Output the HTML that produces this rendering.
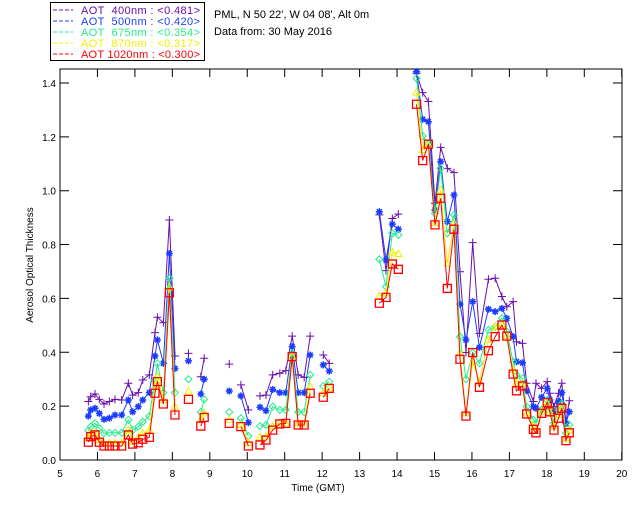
<!DOCTYPE html>
<html><head><meta charset="utf-8"><style>
body{margin:0;background:#fff;}
svg{display:block;font-family:"Liberation Sans",sans-serif;}
text{white-space:pre;}
</style></head><body>
<svg id="c" width="640" height="512">
<rect x="0" y="0" width="640" height="512" fill="#fff"/>
<g>
<rect x="50.5" y="2.5" width="154" height="58" fill="#fff" stroke="#000"/>
</g>
<text x="214" y="18" font-size="11">PML, N 50 22', W 04 08', Alt 0m</text>
<text x="214" y="35" font-size="11">Data from: 30 May 2016</text>
<g id="axes"></g>
<g id="series"></g>
<text x="318" y="491" font-size="10" text-anchor="middle">Time (GMT)</text>
<text transform="translate(33,265) rotate(-90)" font-size="10" text-anchor="middle">Aerosol Optical Thickness</text>
</svg>
<script>
const times=[5.757,5.82,5.935,6.05,6.175,6.317,6.469,6.647,6.825,6.94,7.09,7.21,7.385,7.537,7.6,7.76,7.92,8.07,8.43,8.76,8.85,9.52,9.83,10.03,10.34,10.5,10.68,10.87,11.03,11.2,11.36,11.52,11.68,12.03,12.19,
13.527,13.705,13.874,14.034,14.52,14.684,14.836,15.013,15.165,15.343,15.52,15.68,15.84,16.02,16.2,16.44,16.62,16.8,16.93,17.1,17.19,17.35,17.46,17.64,17.71,17.86,18.01,18.08,18.19,18.31,18.4,18.51,18.6];
const aot400=[.217,.235,.245,.225,.208,.217,.225,.223,.285,.241,.25,.297,.316,.473,.53,.51,.891,.386,.396,.309,.378,.356,.279,.186,.238,.241,.316,.322,.332,.46,.316,.307,.46,.39,.359,
.91,.703,.897,.913,1.436,1.364,1.331,.953,1.161,1.083,1.067,.699,.399,.807,.47,.671,.675,.607,.569,.588,.439,.433,.285,.217,.285,.266,.291,.248,.198,.248,.285,.142,.22];
const aot500=[.163,.186,.192,.173,.151,.155,.167,.167,.223,.179,.198,.223,.25,.386,.446,.359,.767,.34,.368,.245,.30,.256,.238,.139,.196,.183,.262,.25,.25,.421,.25,.25,.39,.353,.33,
.922,.743,.876,.857,1.442,1.265,1.256,.928,1.108,.885,.984,.579,.446,.588,.418,.56,.551,.563,.526,.458,.365,.361,.257,.198,.192,.233,.266,.223,.179,.217,.25,.136,.179];
const aot675=[.109,.124,.136,.118,.099,.101,.101,.101,.149,.111,.124,.142,.163,.297,.359,.25,.675,.25,.30,.178,.225,.178,.155,.089,.126,.13,.198,.186,.186,.396,.178,.178,.316,.275,.291,
.745,.644,.842,.836,1.417,1.203,1.176,.916,1.083,.842,.91,.458,.30,.399,.359,.483,.495,.526,.477,.365,.316,.303,.198,.149,.136,.186,.223,.192,.136,.186,.21,.099,.13];
const aot870=[.08,.099,.099,.074,.062,.062,.062,.062,.111,.068,.084,.099,.111,.272,.309,.223,.641,.198,.254,.149,.173,.149,.13,.062,.084,.087,.124,.136,.136,.384,.136,.134,.272,.248,.266,
.609,.619,.77,.765,1.364,1.151,1.17,.879,1.003,.73,.879,.396,.173,.365,.291,.446,.495,.501,.46,.334,.285,.285,.173,.124,.109,.179,.21,.179,.124,.167,.198,.08,.111];
const aot1020=[.066,.087,.093,.066,.052,.052,.052,.052,.093,.059,.064,.077,.084,.248,.291,.208,.621,.167,.225,.126,.158,.136,.124,.052,.056,.074,.111,.134,.136,.384,.13,.13,.248,.233,.266,
.582,.604,.728,.708,1.321,1.112,1.173,.873,.972,.637,.857,.374,.163,.399,.27,.406,.458,.501,.46,.319,.257,.275,.171,.114,.101,.173,.213,.179,.111,.155,.192,.072,.101];
const xTicks=[5,6,7,8,9,10,11,12,13,14,15,16,17,18,19,20];
const yTicks=[0,0.2,0.4,0.6,0.8,1.0,1.2,1.4];
const legendLabels=["AOT  400nm : <0.481>","AOT  500nm : <0.420>","AOT  675nm : <0.354>","AOT  870nm : <0.317>","AOT 1020nm : <0.300>"];

const L=60,R=622,T=69,B=460;
const xs=t=>L+(t-5)*37.45;
const ys=v=>B-v*269.3;
const NS="http://www.w3.org/2000/svg";
function mk(tag,attrs,parent){const e=document.createElementNS(NS,tag);for(const k in attrs)e.setAttribute(k,attrs[k]);parent.appendChild(e);return e;}
const svg=document.getElementById('c');
const ax=document.getElementById('axes');
const frame=mk('rect',{x:L,y:T,width:R-L,height:B-T,fill:'none',stroke:'#000','stroke-width':1},ax);


xTicks.forEach(t=>{
  const x=xs(t);
  const tk=mk('path',{d:`M${x},${B}V${B-8}M${x},${T}V${T+8}`,stroke:'#000'},ax);
  
  
  const lb=mk('text',{x:x,y:B+17,'font-size':10,'text-anchor':'middle'},ax);
  lb.textContent=t;
  
  
});
yTicks.forEach(v=>{
  const y=ys(v);
  const tk=mk('path',{d:`M${L},${y}H${L+9}M${R},${y}H${R-9}`,stroke:'#000'},ax);
  
  
  const lb=mk('text',{x:L-4,y:y+4,'font-size':10,'text-anchor':'end'},ax);
  lb.textContent=v.toFixed(1);
  
  
});
const series=[[aot400,'#6a0dad','plus'],[aot500,'#1a3cff','star'],[aot675,'#22ee88','diamond'],[aot870,'#f0f000','tri'],[aot1020,'#ff0000','square']];
const sg=document.getElementById('series');
function marker(type,x,y,c,g){
  let d;
  if(type==='plus')d=`M${x-4},${y}H${x+4}M${x},${y-4}V${y+4}`;
  else if(type==='star')d=`M${x-3.5},${y}H${x+3.5}M${x},${y-3.5}V${y+3.5}M${x-2.5},${y-2.5}L${x+2.5},${y+2.5}M${x-2.5},${y+2.5}L${x+2.5},${y-2.5}`;
  else if(type==='diamond')d=`M${x},${y-3.5}L${x+3.5},${y}L${x},${y+3.5}L${x-3.5},${y}Z`;
  else if(type==='tri')d=`M${x},${y-4}L${x+3.5},${y+2.5}L${x-3.5},${y+2.5}Z`;
  else d=`M${x-4},${y-4}H${x+4}V${y+4}H${x-4}Z`;
  const m=mk('path',{d:d,fill:'none',stroke:c,'stroke-width':type==='star'?1.5:(type==='square'?1.3:1)},g);
  
  
}
series.forEach(([vals,c,type],si)=>{
  const g=mk('g',{},sg);
  
  
  let d='';
  for(let i=0;i<times.length;i++){
    const brk=i===0||times[i]-times[i-1]>0.28;
    d+=(brk?'M':'L')+xs(times[i]).toFixed(1)+','+ys(vals[i]).toFixed(1);
  }
  const p=mk('path',{d:d,fill:'none',stroke:c,'stroke-width':1},g);
  
  
  for(let i=0;i<times.length;i++)marker(type,xs(times[i]),ys(vals[i]),c,g);
  const ly=10+si*11;
  const ln=mk('line',{x1:53,x2:73,y1:ly,y2:ly,stroke:c,'stroke-dasharray':'4,2'},svg);
  
  
  const lt=mk('text',{x:81,y:ly+4,'font-size':11,fill:c,textLength:119,lengthAdjust:'spacing'},svg);
  lt.textContent=legendLabels[si];
  
  
});
</script>
</body></html>
